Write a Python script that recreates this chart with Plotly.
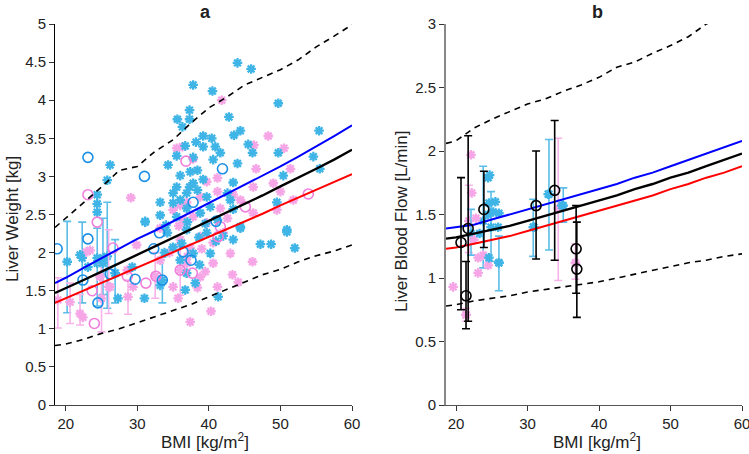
import plotly.graph_objects as go

# ---------- panel a : liver weight ----------
grid_a = [18.5, 20, 22.5, 25, 27.5, 30, 32.5, 35, 37.5, 40, 42.5, 45, 47.5, 50, 52.5, 55, 57.5, 60]
lw_blue = [1.60, 1.67, 1.80, 1.93, 2.05, 2.18, 2.29, 2.41, 2.52, 2.64, 2.76, 2.88, 3.00, 3.13, 3.26, 3.39, 3.53, 3.67]
lw_black = [1.47, 1.53, 1.64, 1.75, 1.86, 1.97, 2.08, 2.19, 2.30, 2.41, 2.52, 2.63, 2.75, 2.87, 2.98, 3.10, 3.22, 3.35]
lw_red = [1.34, 1.40, 1.50, 1.60, 1.70, 1.80, 1.90, 2.00, 2.10, 2.20, 2.30, 2.41, 2.51, 2.62, 2.72, 2.82, 2.93, 3.03]
lw_upper = [2.33, 2.45, 2.66, 2.86, 3.08, 3.13, 3.33, 3.48, 3.70, 3.90, 4.04, 4.20, 4.30, 4.40, 4.53, 4.70, 4.84, 4.99]
lw_lower = [0.78, 0.80, 0.86, 0.94, 1.00, 1.08, 1.15, 1.23, 1.32, 1.42, 1.52, 1.62, 1.71, 1.78, 1.88, 1.96, 2.02, 2.10]

a_cyan_x = [44.0, 45.9, 37.8, 40.5, 49.7, 37.3, 35.6, 37.3, 42.8, 36.3, 44.4, 43.5, 55.4, 39.2, 36.7,
            38.2, 39.2, 40.4, 40.9, 45.5, 41.6, 46.1, 49.7, 35.5, 37.8, 44.0, 40.6, 54.6, 55.5, 26.2,
            34.3, 37.4, 38.4, 36.0, 50.4, 25.8, 39.2, 37.3, 37.8, 35.5, 43.4, 35.0, 36.9, 38.4, 24.4,
            39.7, 42.6, 33.2, 35.0, 36.0, 40.2, 43.0, 24.4, 24.4, 49.5, 43.4, 33.2, 44.4, 31.1, 50.9,
            35.5, 38.8, 36.9, 41.2, 31.1, 47.2, 48.7, 50.9, 52.0, 44.4, 43.4, 40.2, 41.3, 38.7, 38.1,
            36.7, 31.0, 29.3, 27.3, 26.9, 22.0, 23.1, 24.4, 25.2, 36.9, 33.2, 34.2, 36.9, 35.0, 36.0,
            37.8, 39.7, 34.0, 37.0, 38.6, 41.0, 36.2, 33.8, 39.5, 42.0]
a_cyan_y = [4.49, 4.41, 4.20, 4.12, 3.96, 3.87, 3.75, 3.75, 3.78, 3.65, 3.60, 3.54, 3.60, 3.53, 3.40,
            3.45, 3.39, 3.50, 3.39, 3.42, 3.31, 3.31, 3.31, 3.27, 3.25, 3.17, 3.22, 3.26, 3.10, 3.15,
            3.15, 3.06, 3.08, 3.01, 3.01, 2.95, 2.96, 2.86, 2.91, 2.86, 2.92, 2.78, 2.78, 2.82, 2.76,
            2.73, 2.78, 2.66, 2.65, 2.69, 2.60, 2.69, 2.64, 2.53, 2.66, 2.57, 2.49, 2.34, 2.41, 2.30,
            2.47, 2.52, 2.58, 2.43, 2.40, 2.11, 2.11, 2.27, 2.06, 2.32, 2.17, 1.99, 1.42, 1.84, 1.60,
            1.51, 1.40, 1.81, 1.40, 1.73, 1.97, 1.81, 1.93, 1.86, 1.73, 1.57, 2.26, 2.30, 2.07, 1.90,
            1.99, 2.26, 2.36, 2.40, 2.20, 2.15, 2.12, 2.00, 2.38, 2.22]

a_pink_x = [41.8, 48.3, 35.5, 36.3, 46.3, 50.5, 29.1, 37.8, 46.6, 51.4, 39.7, 41.2, 49.0, 50.0, 46.2,
            36.0, 36.9, 38.8, 35.0, 41.2, 43.4, 44.4, 46.2, 49.5, 51.8, 41.6, 42.6, 37.8, 39.7, 36.4,
            23.4, 29.9, 29.4, 35.7, 39.5, 43.0, 43.3, 44.1, 46.1, 40.3, 37.4, 38.4, 38.8, 40.6, 42.0,
            22.4, 22.9, 26.2, 24.8, 35.0, 36.9, 33.2, 40.6, 41.2, 36.0, 38.8, 33.2, 37.4, 28.6, 34.5,
            37.0, 39.0, 35.8]
a_pink_y = [4.00, 3.53, 3.37, 3.39, 3.41, 3.37, 2.72, 3.23, 3.10, 3.10, 2.93, 2.98, 2.91, 2.80, 2.86,
            2.62, 2.66, 2.73, 2.56, 2.80, 2.76, 2.69, 2.52, 2.56, 2.69, 2.58, 2.45, 2.47, 2.39, 2.43,
            2.03, 2.10, 1.55, 1.40, 1.75, 1.99, 1.71, 1.61, 1.88, 1.23, 1.09, 1.54, 1.68, 2.13, 2.26,
            1.15, 2.01, 1.55, 1.68, 1.55, 1.86, 1.90, 1.86, 1.55, 2.17, 2.21, 2.32, 2.06, 1.77, 2.00,
            1.95, 2.05, 2.35]

a_bcirc_x = [23.1, 31.0, 37.8, 41.9, 41.0, 18.8, 23.1, 33.1, 32.3, 36.4, 37.5, 26.2, 29.7, 33.5, 24.5, 22.4]
a_bcirc_y = [3.25, 3.00, 2.66, 3.10, 2.41, 2.05, 2.18, 2.26, 2.05, 2.01, 1.90, 1.72, 1.65, 1.64, 1.34, 1.64]

a_pcirc_x = [23.1, 36.8, 45.1, 53.9, 24.4, 41.6, 26.6, 28.6, 31.2, 32.6, 36.0, 37.7, 24.0, 23.7, 41.3]
a_pcirc_y = [2.76, 3.20, 2.60, 2.77, 2.40, 2.34, 2.06, 1.69, 1.60, 1.69, 1.77, 1.73, 1.07, 1.50, 2.21]

# group means with error bars (x, centre, low, high)
a_cerr_x = [20.2, 22.3, 24.4, 25.2, 25.8, 26.9, 33.5]
a_cerr_y = [1.88, 1.93, 1.86, 1.93, 1.95, 1.73, 1.64]
a_cerr_lo = [1.21, 1.34, 1.30, 1.45, 1.27, 1.34, 1.34]
a_cerr_hi = [2.41, 2.40, 2.32, 2.45, 2.66, 2.17, 1.94]

a_perr_x = [18.9, 20.6, 22.0, 25.0, 26.0, 28.7, 32.5, 36.0]
a_perr_y = [1.38, 1.35, 1.20, 1.40, 1.55, 1.42, 1.69, 1.77]
a_perr_lo = [1.01, 1.07, 1.05, 0.96, 1.20, 1.19, 1.40, 1.44]
a_perr_hi = [1.67, 1.60, 1.45, 1.85, 2.30, 1.64, 2.00, 2.10]

# ---------- panel b : liver blood flow ----------
grid_b = [18.6, 20, 22.5, 25, 27.5, 30, 32.5, 35, 37.5, 40, 42.5, 45, 47.5, 50, 52.5, 55, 57.5, 60]
lbf_blue = [1.39, 1.40, 1.42, 1.46, 1.50, 1.54, 1.58, 1.62, 1.66, 1.70, 1.74, 1.79, 1.83, 1.88, 1.93, 1.98, 2.03, 2.08]
lbf_black = [1.31, 1.32, 1.35, 1.38, 1.41, 1.45, 1.49, 1.53, 1.57, 1.61, 1.65, 1.70, 1.74, 1.79, 1.83, 1.88, 1.93, 1.98]
lbf_red = [1.23, 1.24, 1.27, 1.30, 1.33, 1.37, 1.41, 1.45, 1.49, 1.53, 1.57, 1.61, 1.65, 1.70, 1.74, 1.79, 1.83, 1.88]
lbf_upper = [2.06, 2.08, 2.18, 2.25, 2.31, 2.37, 2.41, 2.47, 2.52, 2.58, 2.66, 2.70, 2.77, 2.83, 2.90, 3.00, 3.06, 3.12]
lbf_lower = [0.78, 0.79, 0.82, 0.84, 0.86, 0.89, 0.91, 0.93, 0.95, 0.97, 1.00, 1.03, 1.06, 1.09, 1.12, 1.14, 1.17, 1.19]

b_circ_x = [20.7, 21.7, 21.4, 23.9, 31.2, 33.8, 36.8, 36.9]
b_circ_y = [1.28, 1.39, 0.86, 1.54, 1.57, 1.69, 1.23, 1.07]
b_circ_lo = [0.75, 0.66, 0.60, 1.24, 1.15, 1.14, 0.88, 0.69]
b_circ_hi = [1.79, 2.12, 1.13, 1.84, 2.00, 2.24, 1.57, 1.44]

b_cyan_x = [24.5, 24.7, 25.5, 24.6, 25.2, 26.0, 24.5, 25.9, 24.6, 26.0, 32.9, 34.8, 30.9, 23.3]
b_cyan_y = [1.79, 1.81, 1.60, 1.59, 1.52, 1.51, 1.50, 1.40, 1.16, 1.12, 1.66, 1.57, 1.40, 1.35]

b_cerr_x = [22.1, 23.8, 24.9, 26.0, 30.8, 33.0, 35.0]
b_cerr_y = [1.35, 1.45, 1.40, 1.12, 1.40, 1.66, 1.57]
b_cerr_lo = [1.18, 1.08, 1.13, 0.90, 1.17, 1.22, 1.44]
b_cerr_hi = [1.54, 1.88, 1.68, 1.33, 1.62, 2.09, 1.71]

b_pink_x = [22.1, 22.2, 22.8, 23.1, 23.1, 24.5, 19.6, 21.4, 22.5, 23.8]
b_pink_y = [1.97, 1.67, 1.47, 1.16, 1.04, 1.10, 0.93, 0.71, 1.30, 1.18]

b_perr_x = [21.8, 21.4, 34.3, 36.7]
b_perr_y = [1.45, 0.71, 1.55, 1.12]
b_perr_lo = [1.20, 0.66, 0.98, 0.99]
b_perr_hi = [1.73, 0.76, 2.10, 1.27]

CYAN = "#3fb4e6"
PINK = "#f6a6e6"
BLUE_C = "#1a8fe6"
PINK_C = "#f07fdc"
ERR_C = "#5cbde9"
ERR_P = "#f7b3ea"
FONT = "Arial, Liberation Sans, sans-serif"

W, H = 749, 454


def px(v):
    return v / W


def py(v):
    return 1 - v / H


fig = go.Figure()


def errs(x, y, lo, hi, color, sym, mcol, xa, ya, size=8, lw=2.3):
    fig.add_trace(go.Scatter(
        x=x, y=y, mode="markers", xaxis=xa, yaxis=ya,
        marker=dict(symbol=sym, size=size, color=mcol, line=dict(color=mcol, width=lw)),
        error_y=dict(type="data", symmetric=False,
                     array=[h - v for h, v in zip(hi, y)],
                     arrayminus=[v - l for v, l in zip(y, lo)],
                     color=color, thickness=1.6, width=4),
        showlegend=False, hoverinfo="skip"))


def pts(x, y, sym, col, xa, ya, size=8, lw=2.3):
    fig.add_trace(go.Scatter(
        x=x, y=y, mode="markers", xaxis=xa, yaxis=ya,
        marker=dict(symbol=sym, size=size, color=col, line=dict(color=col, width=lw)),
        showlegend=False, hoverinfo="skip"))


def line(x, y, col, xa, ya, dash="solid", w=2.0):
    fig.add_trace(go.Scatter(
        x=x, y=y, mode="lines", xaxis=xa, yaxis=ya,
        line=dict(color=col, width=w, dash=dash),
        showlegend=False, hoverinfo="skip"))


# panel a
errs(a_cerr_x, a_cerr_y, a_cerr_lo, a_cerr_hi, ERR_C, "asterisk-open", CYAN, "x", "y")
errs(a_perr_x, a_perr_y, a_perr_lo, a_perr_hi, ERR_P, "asterisk-open", PINK, "x", "y")
pts(a_pink_x, a_pink_y, "asterisk-open", PINK, "x", "y")
pts(a_cyan_x, a_cyan_y, "asterisk-open", CYAN, "x", "y")
pts(a_pcirc_x, a_pcirc_y, "circle-open", PINK_C, "x", "y", size=10, lw=1.6)
pts(a_bcirc_x, a_bcirc_y, "circle-open", BLUE_C, "x", "y", size=10, lw=1.6)
line(grid_a, lw_upper, "black", "x", "y", dash="6px,5px", w=1.6)
line(grid_a, lw_lower, "black", "x", "y", dash="6px,5px", w=1.6)
line(grid_a, lw_blue, "#0000ff", "x", "y")
line(grid_a, lw_red, "#ff0000", "x", "y")
line(grid_a, lw_black, "black", "x", "y", w=2.4)

# panel b
errs(b_perr_x, b_perr_y, b_perr_lo, b_perr_hi, ERR_P, "asterisk-open", PINK, "x2", "y2")
errs(b_cerr_x, b_cerr_y, b_cerr_lo, b_cerr_hi, ERR_C, "asterisk-open", CYAN, "x2", "y2")
pts(b_pink_x, b_pink_y, "asterisk-open", PINK, "x2", "y2")
pts(b_cyan_x, b_cyan_y, "asterisk-open", CYAN, "x2", "y2")
line(grid_b, lbf_upper, "black", "x2", "y2", dash="6px,5px", w=1.6)
line(grid_b, lbf_lower, "black", "x2", "y2", dash="6px,5px", w=1.6)
line(grid_b, lbf_blue, "#0000ff", "x2", "y2")
line(grid_b, lbf_red, "#ff0000", "x2", "y2")
line(grid_b, lbf_black, "black", "x2", "y2", w=2.4)
errs(b_circ_x, b_circ_y, b_circ_lo, b_circ_hi, "black", "circle-open", "black", "x2", "y2", size=10, lw=1.6)

ax_common = dict(showgrid=False, zeroline=False, ticks="outside", ticklen=5, tickwidth=1,
                 tickcolor="#333", automargin=False, ticklabeloverflow="allow",
                 tickfont=dict(family=FONT, size=15, color="#222"), showline=True)


def ann(text, x, y, size=17, angle=0):
    return dict(text=text, x=px(x), y=py(y), xref="paper", yref="paper", textangle=angle,
                xanchor="center", yanchor="middle", showarrow=False,
                font=dict(size=size, family=FONT, color="#222"))


fig.update_layout(
    template="none",
    width=W, height=H,
    margin=dict(l=0, r=0, t=0, b=0, autoexpand=False),
    paper_bgcolor="white", plot_bgcolor="white",
    font=dict(family=FONT, size=15, color="#222"),
    xaxis=dict(ax_common, domain=[px(55), px(352)], range=[18.5, 60], tickvals=[20, 30, 40, 50, 60],
               linecolor="#444", linewidth=1, anchor="y"),
    yaxis=dict(ax_common, domain=[py(405), py(24)], range=[0, 5], dtick=0.5,
               linecolor="black", linewidth=1, anchor="x"),
    xaxis2=dict(ax_common, domain=[px(446), px(742)], range=[18.6, 60], tickvals=[20, 30, 40, 50, 60],
                linecolor="#555", linewidth=1, anchor="y2"),
    yaxis2=dict(ax_common, domain=[py(405), py(24)], range=[0, 3], dtick=0.5,
                linecolor="#888", linewidth=2, anchor="x2"),
    annotations=[
        ann("<b>a</b>", 205, 12, size=18),
        ann("<b>b</b>", 597, 12, size=18),
        ann("Liver Weight [kg]", 12, 219, angle=-90),
        ann("Liver Blood Flow [L/min]", 401, 222, angle=-90),
        ann("BMI [kg/m<sup>2</sup>]", 205, 441),
        ann("BMI [kg/m<sup>2</sup>]", 597, 441),
    ],
)

# pin the plot to the window corner so page margins / whitespace don't shift it
fig.write_html(
    "out.html",
    config={"displayModeBar": False},
    post_script=(
        "document.body.style.margin='0';document.body.style.overflow='hidden';"
        "var g=document.getElementById('{plot_id}');"
        "g.style.position='fixed';g.style.left='0px';g.style.top='0px';"
    ),
)
